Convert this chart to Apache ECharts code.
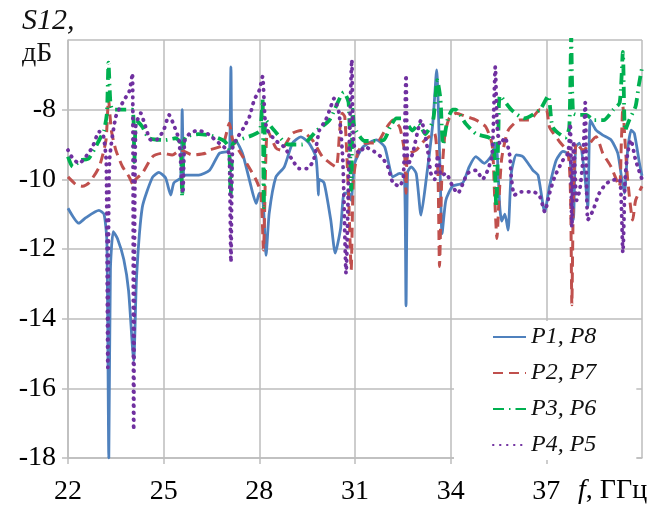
<!DOCTYPE html>
<html>
<head>
<meta charset="utf-8">
<script src="https://cdn.jsdelivr.net/npm/echarts@6/dist/echarts.min.js"></script>
<style>
  html, body { margin: 0; padding: 0; background: #fff; }
  #chart { width: 664px; height: 508px; }
</style>
</head>
<body>
<div id="chart"></div>
<script>
// Frequency, GHz
const freqMin = 22;
const freqMax = 40;
const freqStep = 3;
// Transmission coefficient, dB
const s12Min = -18;
const s12Max = -6;
const s12Step = 2;

const seriesNames = ['P1, P8', 'P2, P7', 'P3, P6', 'P4, P5'];

// [f (GHz), S12 (dB)]
const p1p8 = [
  [22.00,-10.83],[22.34,-11.26],[22.56,-11.10],[22.97,-10.89],[23.13,-11.00],[23.22,-11.8],
  [23.28,-18.0],[23.33,-12.6],[23.42,-11.5],[23.55,-11.7],[23.75,-12.3],[23.90,-13.2],
  [24.06,-15.2],[24.15,-12.8],[24.33,-10.8],[24.65,-9.94],[24.85,-9.80],[25.06,-9.96],
  [25.22,-10.45],[25.32,-10.1],[25.53,-9.95],[25.58,-8.0],[25.63,-9.9],[25.69,-9.88],
  [26.10,-9.88],[26.44,-9.74],[26.75,-9.25],[27.00,-9.2],[27.07,-9.1],[27.11,-6.77],
  [27.15,-9.0],[27.27,-8.92],[27.47,-9.25],[27.69,-10.02],[27.90,-10.69],[28.00,-10.4],
  [28.12,-10.7],[28.21,-12.18],[28.31,-10.97],[28.52,-9.93],[28.78,-9.65],[29.04,-8.96],
  [29.30,-8.78],[29.56,-8.96],[29.77,-9.35],[29.83,-10.0],[29.85,-10.45],[29.88,-10.0],
  [30.03,-10.1],[30.24,-11.17],[30.38,-12.12],[30.55,-11.4],[30.66,-10.4],[30.81,-10.4],
  [30.88,-10.6],[30.99,-9.54],[31.25,-9.07],[31.67,-8.87],[31.93,-9.07],[32.19,-9.93],
  [32.40,-9.83],[32.55,-9.9],[32.60,-13.63],[32.65,-9.8],[32.76,-9.64],[32.92,-9.83],
  [33.07,-11.03],[33.23,-10.02],[33.44,-8.39],[33.56,-6.86],[33.67,-9.83],[33.73,-11.56],
  [33.85,-10.6],[34.06,-10.2],[34.38,-10.1],[34.58,-9.64],[34.79,-9.35],[35.05,-9.54],
  [35.26,-9.35],[35.42,-8.96],[35.54,-10.79],[35.60,-11.2],[35.70,-11.0],[35.80,-11.46],
  [35.90,-9.83],[36.06,-9.3],[36.27,-9.35],[36.58,-9.74],[36.74,-9.88],[36.95,-10.93],
  [37.10,-10.2],[37.31,-9.45],[37.52,-9.2],[37.73,-9.3],[37.85,-11.17],[37.92,-9.07],
  [38.04,-8.96],[38.20,-9.83],[38.30,-10.79],[38.38,-8.3],[38.56,-8.59],[38.77,-8.73],
  [39.03,-8.87],[39.24,-9.25],[39.37,-10.02],[39.45,-10.4],[39.55,-9.16],[39.66,-8.59],
  [39.76,-8.68],[39.92,-9.54],[40.00,-9.9]
];

const p2p7 = [
  [22.00,-9.93],[22.25,-10.15],[22.46,-10.2],[22.66,-10.1],[22.98,-9.64],[23.19,-8.88],
  [23.27,-7.7],[23.36,-8.6],[23.50,-9.16],[23.71,-9.64],[23.92,-9.93],[24.07,-10.2],
  [24.12,-10.0],[24.33,-9.83],[24.65,-9.35],[24.96,-9.25],[25.27,-9.3],[25.53,-9.16],
  [25.90,-9.3],[26.31,-9.25],[26.44,-9.16],[26.85,-9.02],[27.06,-8.39],[27.17,-8.88],
  [27.48,-9.35],[27.90,-10.02],[28.05,-10.4],[28.13,-12.03],[28.20,-9.5],[28.26,-8.59],
  [28.52,-9.1],[28.67,-9.16],[29.04,-8.68],[29.30,-8.6],[29.67,-8.88],[29.98,-9.35],
  [30.40,-9.64],[30.52,-8.6],[30.60,-8.1],[30.68,-8.2],[30.80,-10.5],[30.88,-12.6],
  [30.95,-10.0],[31.10,-9.2],[31.35,-8.96],[31.67,-8.96],[31.98,-8.53],[32.19,-8.3],
  [32.40,-8.5],[32.55,-9.2],[32.60,-10.4],[32.65,-9.3],[32.92,-9.16],[33.18,-8.88],
  [33.49,-8.68],[33.60,-9.8],[33.65,-12.5],[33.72,-10.0],[33.82,-8.7],[33.96,-8.24],
  [34.17,-8.1],[34.50,-8.2],[34.80,-8.3],[35.10,-8.49],[35.30,-9.0],[35.38,-10.5],
  [35.45,-11.7],[35.52,-10.5],[35.60,-9.4],[35.80,-8.6],[36.16,-8.3],[36.47,-8.3],
  [36.80,-8.0],[37.00,-8.0],[37.10,-8.5],[37.40,-8.9],[37.68,-9.25],[37.76,-10.5],
  [37.80,-13.6],[37.85,-10.5],[37.94,-8.96],[38.15,-9.16],[38.56,-8.78],[38.77,-9.25],
  [39.03,-9.64],[39.29,-10.2],[39.35,-9.0],[39.40,-7.9],[39.46,-8.8],[39.55,-10.0],
  [39.71,-11.17],[39.80,-10.6],[40.00,-10.2]
];

const p3p6 = [
  [22.00,-9.35],[22.15,-9.64],[22.40,-9.45],[22.65,-9.4],[22.98,-8.87],[23.13,-8.59],
  [23.22,-8.1],[23.27,-6.65],[23.33,-7.8],[23.40,-8.0],[23.70,-8.0],[24.02,-8.0],
  [24.08,-9.5],[24.14,-8.3],[24.33,-8.49],[24.54,-8.82],[25.06,-8.87],[25.38,-8.82],
  [25.53,-8.97],[25.58,-10.5],[25.63,-9.0],[25.69,-8.78],[26.10,-8.7],[26.50,-8.75],
  [26.90,-8.9],[27.05,-9.1],[27.10,-10.5],[27.16,-9.0],[27.28,-8.9],[27.80,-8.73],
  [28.02,-8.6],[28.10,-7.7],[28.14,-10.8],[28.20,-8.3],[28.47,-8.6],[28.90,-9.0],
  [29.35,-9.0],[29.80,-8.6],[30.20,-8.3],[30.65,-7.5],[30.80,-7.8],[30.88,-10.3],
  [30.93,-8.0],[30.98,-8.5],[31.30,-8.9],[31.90,-8.87],[32.10,-8.5],[32.30,-8.25],
  [32.50,-8.25],[32.80,-8.6],[33.00,-8.4],[33.20,-8.7],[33.45,-8.3],[33.58,-7.15],
  [33.68,-7.7],[33.76,-9.0],[33.90,-8.3],[34.06,-8.0],[34.16,-8.0],[34.47,-8.4],
  [34.80,-8.7],[35.20,-8.8],[35.35,-9.0],[35.43,-10.8],[35.50,-8.5],[35.55,-7.6],
  [35.90,-8.0],[36.30,-8.25],[36.80,-8.0],[37.06,-7.6],[37.20,-8.5],[37.60,-8.8],
  [37.72,-8.5],[37.78,-5.9],[37.84,-8.1],[38.00,-8.15],[38.25,-8.15],[38.50,-8.3],
  [38.80,-8.3],[39.10,-8.0],[39.30,-7.8],[39.40,-6.34],[39.47,-8.6],[39.60,-8.3],
  [39.80,-7.9],[39.90,-7.3],[40.00,-6.8]
];

const p4p5 = [
  [22.00,-9.16],[22.15,-9.4],[22.35,-9.54],[22.60,-9.3],[22.77,-9.07],[22.98,-8.63],
  [23.10,-8.7],[23.20,-9.5],[23.25,-15.4],[23.30,-9.5],[23.50,-8.2],[23.76,-7.72],
  [23.92,-7.48],[24.02,-6.96],[24.06,-17.2],[24.12,-8.5],[24.28,-8.1],[24.40,-8.4],
  [24.60,-8.87],[24.80,-8.85],[25.00,-8.59],[25.17,-8.15],[25.30,-8.4],[25.48,-8.87],
  [25.60,-10.4],[25.66,-8.9],[25.80,-8.7],[26.05,-8.6],[26.30,-8.65],[26.44,-8.73],
  [26.75,-8.97],[27.00,-9.16],[27.06,-9.3],[27.11,-12.37],[27.16,-9.1],[27.27,-8.87],
  [27.50,-8.53],[27.69,-8.2],[27.84,-7.72],[28.00,-7.44],[28.10,-7.05],[28.18,-8.3],
  [28.26,-8.6],[28.50,-8.88],[28.78,-9.07],[29.04,-9.45],[29.25,-9.69],[29.50,-9.69],
  [29.70,-9.45],[29.88,-8.6],[30.08,-8.3],[30.24,-7.92],[30.34,-7.68],[30.50,-8.1],
  [30.62,-9.5],[30.72,-12.7],[30.82,-9.0],[30.90,-6.57],[30.96,-9.0],[31.15,-9.25],
  [31.30,-9.07],[31.60,-9.2],[31.87,-9.4],[32.03,-9.64],[32.19,-10.1],[32.40,-10.2],
  [32.52,-9.9],[32.60,-7.0],[32.66,-9.6],[32.81,-9.25],[32.97,-8.6],[33.07,-8.3],
  [33.17,-8.6],[33.28,-9.16],[33.38,-9.83],[33.50,-10.0],[33.60,-9.3],[33.70,-9.9],
  [33.85,-9.83],[34.06,-10.2],[34.22,-10.4],[34.53,-9.83],[34.80,-9.74],[35.00,-10.0],
  [35.16,-9.74],[35.30,-9.3],[35.40,-6.77],[35.46,-8.5],[35.55,-9.0],[35.70,-8.8],
  [35.85,-9.3],[35.90,-9.93],[36.00,-10.45],[36.20,-10.36],[36.60,-10.36],[36.80,-10.5],
  [36.95,-10.93],[37.10,-10.4],[37.26,-9.93],[37.52,-9.45],[37.68,-9.25],[37.75,-8.4],
  [37.80,-11.37],[37.86,-8.9],[37.95,-10.6],[38.05,-10.3],[38.15,-9.4],[38.22,-7.8],
  [38.30,-11.17],[38.46,-10.9],[38.66,-10.4],[38.88,-10.12],[39.10,-10.02],[39.30,-10.0],
  [39.40,-12.1],[39.47,-10.0],[39.55,-9.25],[39.65,-8.87],[39.80,-9.45],[40.00,-10.0]
];

const serif = "'Liberation Serif', 'DejaVu Serif', serif";
const gridColor = '#BDBDBD';

const chart = echarts.init(document.getElementById('chart'), null, { renderer: 'canvas' });

function lineSeries(name, data, color, width, dash, cap) {
  return {
    name: name,
    type: 'line',
    data: data,
    symbol: 'none',
    smooth: 0.2,
    clip: true,
    lineStyle: { color: color, width: width, type: dash, cap: cap || 'butt' },
    itemStyle: { color: color },
    emphasis: { disabled: true }
  };
}

chart.setOption({
  backgroundColor: '#ffffff',
  animation: false,
  grid: { left: 68, right: 22, top: 40, bottom: 50, containLabel: false },
  xAxis: {
    type: 'value',
    min: freqMin,
    max: freqMax,
    interval: freqStep,
    axisLine: { show: true, lineStyle: { color: gridColor, width: 1.5 } },
    axisTick: { show: true, length: 6, lineStyle: { color: gridColor, width: 1.5 } },
    splitLine: { show: true, lineStyle: { color: gridColor, width: 1.5 } },
    axisLabel: {
      margin: 20,
      color: '#000',
      fontFamily: serif,
      fontSize: 28,
      showMaxLabel: false,
      formatter: v => (v >= freqMax ? '' : String(v))
    }
  },
  yAxis: {
    type: 'value',
    min: s12Min,
    max: s12Max,
    interval: s12Step,
    axisLine: { show: true, lineStyle: { color: gridColor, width: 1.5 } },
    axisTick: { show: true, length: 6, lineStyle: { color: gridColor, width: 1.5 } },
    splitLine: { show: true, lineStyle: { color: gridColor, width: 1.5 } },
    axisLabel: {
      margin: 12,
      color: '#000',
      fontFamily: serif,
      fontSize: 28,
      showMaxLabel: false,
      formatter: v => (v >= s12Max ? '' : String(v))
    }
  },
  legend: {
    orient: 'vertical',
    left: 454,
    top: 321,
    padding: [3, 40, 2, 38],
    itemGap: 10,
    itemWidth: 33,
    itemHeight: 14,
    backgroundColor: '#ffffff',
    selectedMode: false,
    itemStyle: { opacity: 0 },
    lineStyle: { opacity: 1 },
    textStyle: {
      fontFamily: serif,
      fontStyle: 'italic',
      fontSize: 24,
      lineHeight: 26,
      color: '#111'
    },
    data: seriesNames
  },
  graphic: [
    {
      type: 'text', left: 22, top: 6,
      style: { text: 'S12,', font: "italic 30px 'Liberation Serif', serif", fill: '#111' }
    },
    {
      type: 'text', left: 22, top: 40,
      style: { text: 'дБ', font: "28px 'Liberation Serif', serif", fill: '#111' }
    },
    {
      type: 'text', left: 578, top: 477,
      style: {
        text: '{i|f}, ГГц',
        font: "28px 'Liberation Serif', serif",
        fill: '#000',
        rich: { i: { fontStyle: 'italic', fontFamily: serif, fontSize: 28, fill: '#000' } }
      }
    }
  ],
  series: [
    lineSeries(seriesNames[0], p1p8, '#4F81BD', 2.8, 'solid'),
    lineSeries(seriesNames[1], p2p7, '#C0504D', 3, [10, 6]),
    lineSeries(seriesNames[2], p3p6, '#00B050', 3.8, [11, 5, 1.5, 5]),
    lineSeries(seriesNames[3], p4p5, '#7030A0', 3.8, [0.5, 6.5], 'round')
  ]
});
</script>
</body>
</html>
